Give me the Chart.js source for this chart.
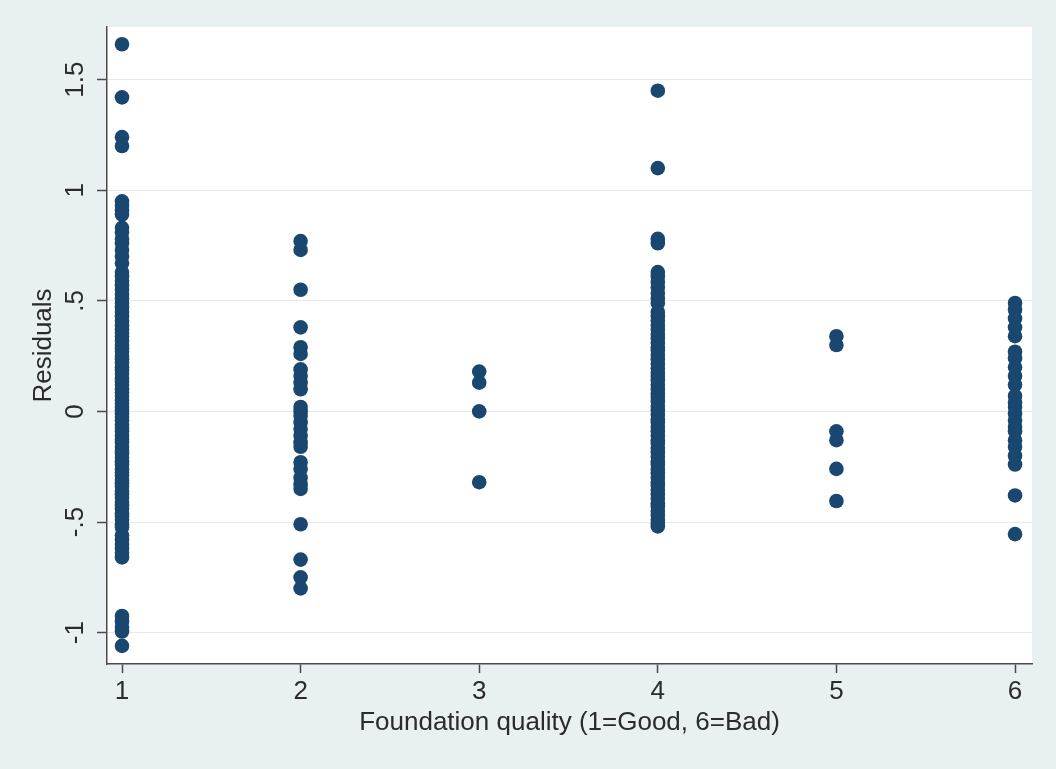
<!DOCTYPE html>
<html>
<head>
<meta charset="utf-8">
<title>Residuals by foundation quality</title>
<script src="https://cdn.jsdelivr.net/npm/chart.js@4.4.1/dist/chart.umd.min.js"></script>
<style>
  html, body { margin: 0; padding: 0; background: #e9f0f2; }
  #wrap { width: 1056px; height: 769px; }
</style>
</head>
<body>
<div id="wrap"><canvas id="c" width="1056" height="769"></canvas></div>
<script>
// Foundation quality categories (1 = Good ... 6 = Bad)
const categories = [1, 2, 3, 4, 5, 6];

// Residuals observed in each foundation-quality category
const residQ1 = [1.66, 1.42, 1.24, 1.20, 0.95, 0.93, 0.91, 0.89, 0.83, 0.81, 0.78, 0.76,
  0.73, 0.70, 0.67, 0.63, 0.61, 0.59, 0.57, 0.55, 0.53, 0.51, 0.49, 0.47, 0.45, 0.43,
  0.41, 0.39, 0.37, 0.355, 0.34, 0.32, 0.30, 0.285, 0.27, 0.25, 0.235, 0.22, 0.20,
  0.185, 0.17, 0.15, 0.135, 0.12, 0.10, 0.085, 0.07, 0.05, 0.035, 0.02, 0.005, -0.01,
  -0.025, -0.04, -0.06, -0.075, -0.09, -0.11, -0.125, -0.14, -0.16, -0.175, -0.19,
  -0.21, -0.225, -0.24, -0.26, -0.275, -0.29, -0.31, -0.325, -0.34, -0.36, -0.375,
  -0.39, -0.41, -0.425, -0.44, -0.46, -0.475, -0.49, -0.51, -0.525, -0.56, -0.58,
  -0.60, -0.62, -0.64, -0.66, -0.925, -0.95, -0.975, -0.995, -1.06];
const residQ2 = [0.77, 0.73, 0.55, 0.38, 0.29, 0.26, 0.19, 0.16, 0.13, 0.10, 0.02, 0.0,
  -0.02, -0.05, -0.08, -0.11, -0.14, -0.16, -0.23, -0.26, -0.30, -0.33, -0.35, -0.51,
  -0.67, -0.75, -0.80];
const residQ3 = [0.18, 0.13, 0.0, -0.32];
const residQ4 = [1.45, 1.10, 0.78, 0.76, 0.63, 0.61, 0.585, 0.56, 0.535, 0.51, 0.49,
  0.45, 0.43, 0.41, 0.39, 0.37, 0.35, 0.33, 0.31, 0.29, 0.275, 0.255, 0.235, 0.215,
  0.195, 0.175, 0.16, 0.14, 0.12, 0.10, 0.08, 0.065, 0.045, 0.025, 0.005, -0.015,
  -0.035, -0.05, -0.07, -0.09, -0.11, -0.13, -0.145, -0.165, -0.185, -0.205, -0.225,
  -0.24, -0.26, -0.28, -0.30, -0.32, -0.335, -0.355, -0.375, -0.395, -0.415, -0.43,
  -0.45, -0.47, -0.49, -0.505, -0.52];
const residQ5 = [0.34, 0.30, -0.09, -0.13, -0.26, -0.405];
const residQ6 = [0.49, 0.46, 0.42, 0.38, 0.34, 0.27, 0.24, 0.20, 0.16, 0.12, 0.07, 0.04,
  0.02, -0.01, -0.04, -0.07, -0.09, -0.13, -0.16, -0.20, -0.24, -0.38, -0.555];

// Axis ticks and their labels
const xTicks = [1, 2, 3, 4, 5, 6];
const yTicks = [-1, -0.5, 0, 0.5, 1, 1.5];
const yTickLabels = ['-1', '-.5', '0', '.5', '1', '1.5'];

const xTitle = 'Foundation quality (1=Good, 6=Bad)';
const yTitle = 'Residuals';

const groups = [residQ1, residQ2, residQ3, residQ4, residQ5, residQ6];
const points = [];
groups.forEach((vals, i) => vals.forEach(v => points.push({ x: categories[i], y: v })));

const FONT = "'Liberation Sans', Arial, Helvetica, sans-serif";
const FONT_SIZE = 26;
const AXIS_COLOR = '#4a4a4a';
const TEXT_COLOR = '#2b2b2b';

// Paints the outer region and the white plotting area
const panelPlugin = {
  id: 'panel',
  beforeDraw(chart) {
    const { ctx, chartArea: a } = chart;
    ctx.save();
    ctx.fillStyle = '#e9f0f2';
    ctx.fillRect(0, 0, chart.width, chart.height);
    ctx.fillStyle = '#ffffff';
    ctx.fillRect(a.left, a.top, a.right - a.left, a.bottom - a.top);
    ctx.restore();
  }
};

new Chart(document.getElementById('c'), {
  type: 'scatter',
  data: {
    datasets: [{
      data: points,
      pointRadius: 7.3,
      pointHoverRadius: 7.3,
      backgroundColor: '#1a476f',
      borderColor: '#1a476f',
      borderWidth: 0
    }]
  },
  options: {
    responsive: false,
    animation: false,
    events: [],
    layout: { padding: { top: 27, right: 24, left: 0, bottom: 0 } },
    plugins: { legend: { display: false }, tooltip: { enabled: false } },
    scales: {
      x: {
        type: 'linear',
        min: 0.916,
        max: 6.095,
        afterBuildTicks(scale) { scale.ticks = xTicks.map(v => ({ value: v })); },
        afterFit(scale) { scale.height = 105; },
        border: { color: AXIS_COLOR, width: 1.5 },
        grid: { drawOnChartArea: false, drawTicks: true, tickLength: 9, tickColor: AXIS_COLOR, tickWidth: 1.5 },
        ticks: {
          padding: 3,
          color: TEXT_COLOR,
          font: { family: FONT, size: FONT_SIZE },
          maxRotation: 0,
          autoSkip: false,
          callback: v => String(v)
        },
        title: {
          display: true,
          text: xTitle,
          color: TEXT_COLOR,
          font: { family: FONT, size: FONT_SIZE },
          padding: { top: 0, bottom: 31 }
        }
      },
      y: {
        type: 'linear',
        min: -1.142,
        max: 1.738,
        afterBuildTicks(scale) { scale.ticks = yTicks.map(v => ({ value: v })); },
        afterFit(scale) { scale.width = 107; },
        border: { color: AXIS_COLOR, width: 1.5 },
        grid: { color: '#e9e9e9', lineWidth: 1, drawTicks: true, tickLength: 10, tickColor: AXIS_COLOR, tickWidth: 1.5 },
        ticks: {
          padding: 3,
          color: TEXT_COLOR,
          font: { family: FONT, size: FONT_SIZE },
          minRotation: 90,
          maxRotation: 90,
          crossAlign: 'center',
          autoSkip: false,
          callback: v => yTickLabels[yTicks.indexOf(v)]
        },
        title: {
          display: true,
          text: yTitle,
          color: TEXT_COLOR,
          font: { family: FONT, size: FONT_SIZE },
          padding: { top: 28, bottom: 0 }
        }
      }
    }
  },
  plugins: [panelPlugin]
});
</script>
</body>
</html>
